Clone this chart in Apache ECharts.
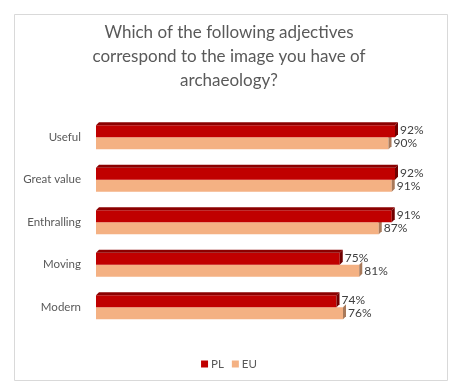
<!DOCTYPE html>
<html>
<head>
<meta charset="utf-8">
<script src="https://cdn.jsdelivr.net/npm/echarts@6/dist/echarts.min.js"></script>
<style>html,body{margin:0;padding:0;background:#fff;}#c{width:458px;height:392px;}</style>
</head>
<body>
<div id="c"></div>
<script>
var titleText = "Which of the following adjectives\ncorrespond to the image you have of\narchaeology?";
var categories = ["Useful", "Great value", "Enthralling", "Moving", "Modern"];
var plValues = [92, 92, 91, 75, 74];
var euValues = [90, 91, 87, 81, 76];
var seriesNames = ["PL", "EU"];

var chart = echarts.init(document.getElementById('c'), null, {renderer: 'canvas'});

function makeRender(isPL, front, topC, sideC) {
  return function (params, api) {
    var v = api.value(0), ci = api.value(1);
    var p0 = api.coord([0, ci]), p1 = api.coord([v, ci]);
    var c = p1[1];
    var h = 12, d = 3;
    var y0 = isPL ? c - h : c;
    var y1 = y0 + h;
    var x0 = p0[0], x1 = p1[0];
    var children = [];
    children.push({type: 'rect', shape: {x: x0, y: y0, width: x1 - x0, height: h}, style: {fill: front}});
    if (isPL) {
      children.push({type: 'polygon', shape: {points: [[x0, y0], [x0 + d, y0 - d], [x1 + d, y0 - d], [x1, y0]]}, style: {fill: topC}});
    }
    children.push({type: 'polygon', shape: {points: [[x1, y0], [x1 + d, y0 - d], [x1 + d, y1 - d], [x1, y1]]}, style: {fill: sideC}});
    children.push({type: 'text', style: {x: x1 + d + 2, y: (y0 + y1) / 2 + (isPL ? -1 : 0), text: v + '%', fill: '#404040', font: '12px Lato', textVerticalAlign: 'middle', textAlign: 'left'}});
    return {type: 'group', children: children};
  };
}

function toData(vals) {
  return vals.map(function (v, i) { return [v, i]; });
}

chart.setOption({
  animation: false,
  backgroundColor: '#fff',
  textStyle: {fontFamily: 'Lato'},
  title: {
    text: titleText,
    left: 'center',
    top: 16,
    textStyle: {fontFamily: 'Lato', fontSize: 17, fontWeight: 'normal', color: '#595959', lineHeight: 24}
  },
  legend: {
    data: seriesNames,
    left: 'center',
    top: 353,
    icon: 'rect',
    itemWidth: 7,
    itemHeight: 7,
    itemGap: 8,
    textStyle: {fontFamily: 'Lato', fontSize: 11.5, color: '#595959', padding: [0, 0, 0, -2]}
  },
  graphic: [{
    type: 'rect', left: 12, top: 12, shape: {width: 433, height: 366},
    style: {fill: 'none', stroke: '#d9d9d9', lineWidth: 1}, silent: true
  }],
  grid: {left: 96, right: 37, top: 116, bottom: 63.5},
  xAxis: {type: 'value', min: 0, max: 100, show: false},
  yAxis: {
    type: 'category', data: categories, inverse: true,
    axisLine: {show: false}, axisTick: {show: false},
    axisLabel: {margin: 15, fontFamily: 'Lato', fontSize: 11.5, color: '#595959', verticalAlign: 'middle', padding: [4, 0, 0, 0]}
  },
  series: [
    {
      name: 'PL', type: 'custom', z: 3,
      itemStyle: {color: '#c00000'},
      renderItem: makeRender(true, '#c00000', '#8b0000', '#700000'),
      encode: {x: 0, y: 1},
      data: toData(plValues)
    },
    {
      name: 'EU', type: 'custom', z: 2,
      itemStyle: {color: '#f4b183'},
      renderItem: makeRender(false, '#f4b183', '#c98c62', '#a8795a'),
      encode: {x: 0, y: 1},
      data: toData(euValues)
    }
  ]
});
</script>
</body>
</html>
